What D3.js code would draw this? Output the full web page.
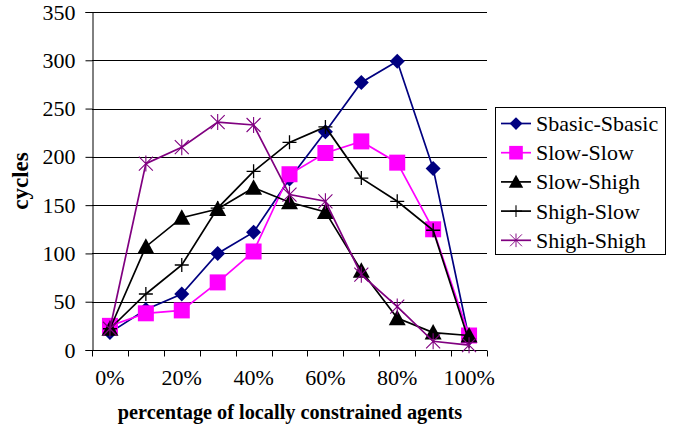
<!DOCTYPE html>
<html>
<head>
<meta charset="utf-8">
<script src="https://cdn.jsdelivr.net/npm/d3@7"></script>
<style>
  body { margin: 0; background: #fff; }
  text { font-family: 'Liberation Serif', 'Times New Roman', 'DejaVu Serif', serif !important; }
</style>
</head>
<body>
<svg id="chart" width="679" height="426"></svg>
<script>
var categories = ["0%", "10%", "20%", "30%", "40%", "50%", "60%", "70%", "80%", "90%", "100%"]
var tickLabels = ["0%", "20%", "40%", "60%", "80%", "100%"]
var yTicks = [0, 50, 100, 150, 200, 250, 300, 350]

var seriesNames = ["Sbasic-Sbasic", "Slow-Slow", "Slow-Shigh", "Shigh-Slow", "Shigh-Shigh"]
var sbasicSbasic = [18, 42, 58, 100, 122, 177, 226, 277, 299, 188, 12]
var slowSlow = [25, 38, 41, 70, 102, 182, 204, 216, 194, 125, 15]
var slowShigh = [22, 107, 137, 146, 168, 153, 143, 82, 33, 18, 15]
var shighSlow = [22, 58, 88, 147, 185, 215, 231, 178, 154, 124, 9]
var shighShigh = [22, 193, 210, 236, 233, 161, 154, 78, 45, 9, 5]

var colors = ["#000080", "#ff00ff", "#000000", "#000000", "#800080"]
var markers = ["diamond", "square", "triangle", "plus", "star"]
var serif = "'Liberation Serif', 'Times New Roman', 'DejaVu Serif', serif"

var dimensions = {
  width: 679,
  height: 426,
  margin: { top: 12, bottom: 76, left: 92, right: 192 }
}

var svg = d3.select("#chart")

var xScale = d3.scaleBand()
  .domain(categories)
  .range([dimensions.margin.left, dimensions.width - dimensions.margin.right])

var yScale = d3.scaleLinear()
  .domain([0, 350])
  .range([dimensions.height - dimensions.margin.bottom, dimensions.margin.top])

var x0 = dimensions.margin.left
var x1 = dimensions.width - dimensions.margin.right
var yBottom = yScale(0)

// gridlines
svg.append("g")
  .selectAll("line")
  .data(yTicks.filter(d => d > 0))
  .enter()
  .append("line")
  .attr("x1", x0)
  .attr("x2", x1)
  .attr("y1", d => Math.round(yScale(d)) + 0.5)
  .attr("y2", d => Math.round(yScale(d)) + 0.5)
  .attr("stroke", "#000")
  .attr("stroke-width", 1)

// y axis
var yAxis = svg.append("g")
  .attr("transform", "translate(" + (x0 + 0.5) + ",0)")
  .call(d3.axisLeft(yScale).tickValues(yTicks).tickSize(7).tickPadding(10))
  .attr("font-family", serif)
  .attr("font-size", 22)
yAxis.select(".domain").attr("stroke", "#000")
yAxis.selectAll("text").attr("fill", "#000")

// x axis
var xAxis = svg.append("g")
  .attr("transform", "translate(0," + (Math.round(yBottom) + 0.5) + ")")
xAxis.append("line")
  .attr("x1", x0)
  .attr("x2", x1)
  .attr("stroke", "#000")
xAxis.selectAll(".tk")
  .data(categories.concat(["end"]))
  .enter()
  .append("line")
  .attr("class", "tk")
  .attr("x1", (d, i) => Math.round(x0 + i * xScale.step()) + 0.5)
  .attr("x2", (d, i) => Math.round(x0 + i * xScale.step()) + 0.5)
  .attr("y1", 0)
  .attr("y2", 6)
  .attr("stroke", "#000")
xAxis.selectAll(".lbl")
  .data(tickLabels)
  .enter()
  .append("text")
  .attr("class", "lbl")
  .attr("x", d => xScale(d) + xScale.bandwidth() / 2)
  .attr("y", 34)
  .attr("text-anchor", "middle")
  .attr("font-family", serif)
  .attr("font-size", 22)
  .text(d => d)

// axis titles
svg.append("text")
  .attr("x", 290)
  .attr("y", 419)
  .attr("text-anchor", "middle")
  .attr("font-family", serif)
  .attr("font-size", 20.3)
  .attr("font-weight", "bold")
  .text("percentage of locally constrained agents")

svg.append("text")
  .attr("transform", "translate(28,181) rotate(-90)")
  .attr("text-anchor", "middle")
  .attr("font-family", serif)
  .attr("font-size", 23)
  .attr("font-weight", "bold")
  .text("cycles")

function drawMarker(g, type, color) {
  if (type == "diamond") {
    g.append("path").attr("d", "M0,-7.5L7.5,0L0,7.5L-7.5,0Z").attr("fill", color)
  } else if (type == "square") {
    g.append("rect").attr("x", -8).attr("y", -8).attr("width", 16).attr("height", 16).attr("fill", color)
  } else if (type == "triangle") {
    g.append("path").attr("d", "M0,-8.5L8.5,7L-8.5,7Z").attr("fill", color)
  } else if (type == "plus") {
    g.append("path").attr("d", "M-7,0H7M0,-7V7").attr("stroke", color).attr("stroke-width", 1.3)
  } else if (type == "star") {
    g.append("path").attr("d", "M-7,-7L7,7M-7,7L7,-7M0,-8V8").attr("stroke", color).attr("stroke-width", 1.1)
  }
}

var allSeries = [sbasicSbasic, slowSlow, slowShigh, shighSlow, shighShigh]
var line = d3.line()
  .x((d, i) => xScale(categories[i]) + xScale.bandwidth() / 2)
  .y(d => yScale(d))

allSeries.forEach(function(values, s) {
  var g = svg.append("g")
  g.append("path")
    .datum(values)
    .attr("d", line)
    .attr("fill", "none")
    .attr("stroke", colors[s])
    .attr("stroke-width", 1.7)
  values.forEach(function(v, i) {
    var m = g.append("g")
      .attr("transform", "translate(" + (xScale(categories[i]) + xScale.bandwidth() / 2) + "," + yScale(v) + ")")
    drawMarker(m, markers[s], colors[s])
  })
})

// legend
var legend = svg.append("g")
legend.append("rect")
  .attr("x", 495.5)
  .attr("y", 107.5)
  .attr("width", 170)
  .attr("height", 147)
  .attr("fill", "#fff")
  .attr("stroke", "#000")

seriesNames.forEach(function(name, s) {
  var ly = 123.5 + s * 29.2
  legend.append("line")
    .attr("x1", 501)
    .attr("x2", 531)
    .attr("y1", ly)
    .attr("y2", ly)
    .attr("stroke", colors[s])
    .attr("stroke-width", 1.7)
  var m = legend.append("g").attr("transform", "translate(516," + ly + ") scale(0.85)")
  drawMarker(m, markers[s], colors[s])
  legend.append("text")
    .attr("x", 536)
    .attr("y", ly + 7.5)
    .attr("font-family", serif)
    .attr("font-size", 22)
    .text(name)
})
</script>
</body>
</html>
